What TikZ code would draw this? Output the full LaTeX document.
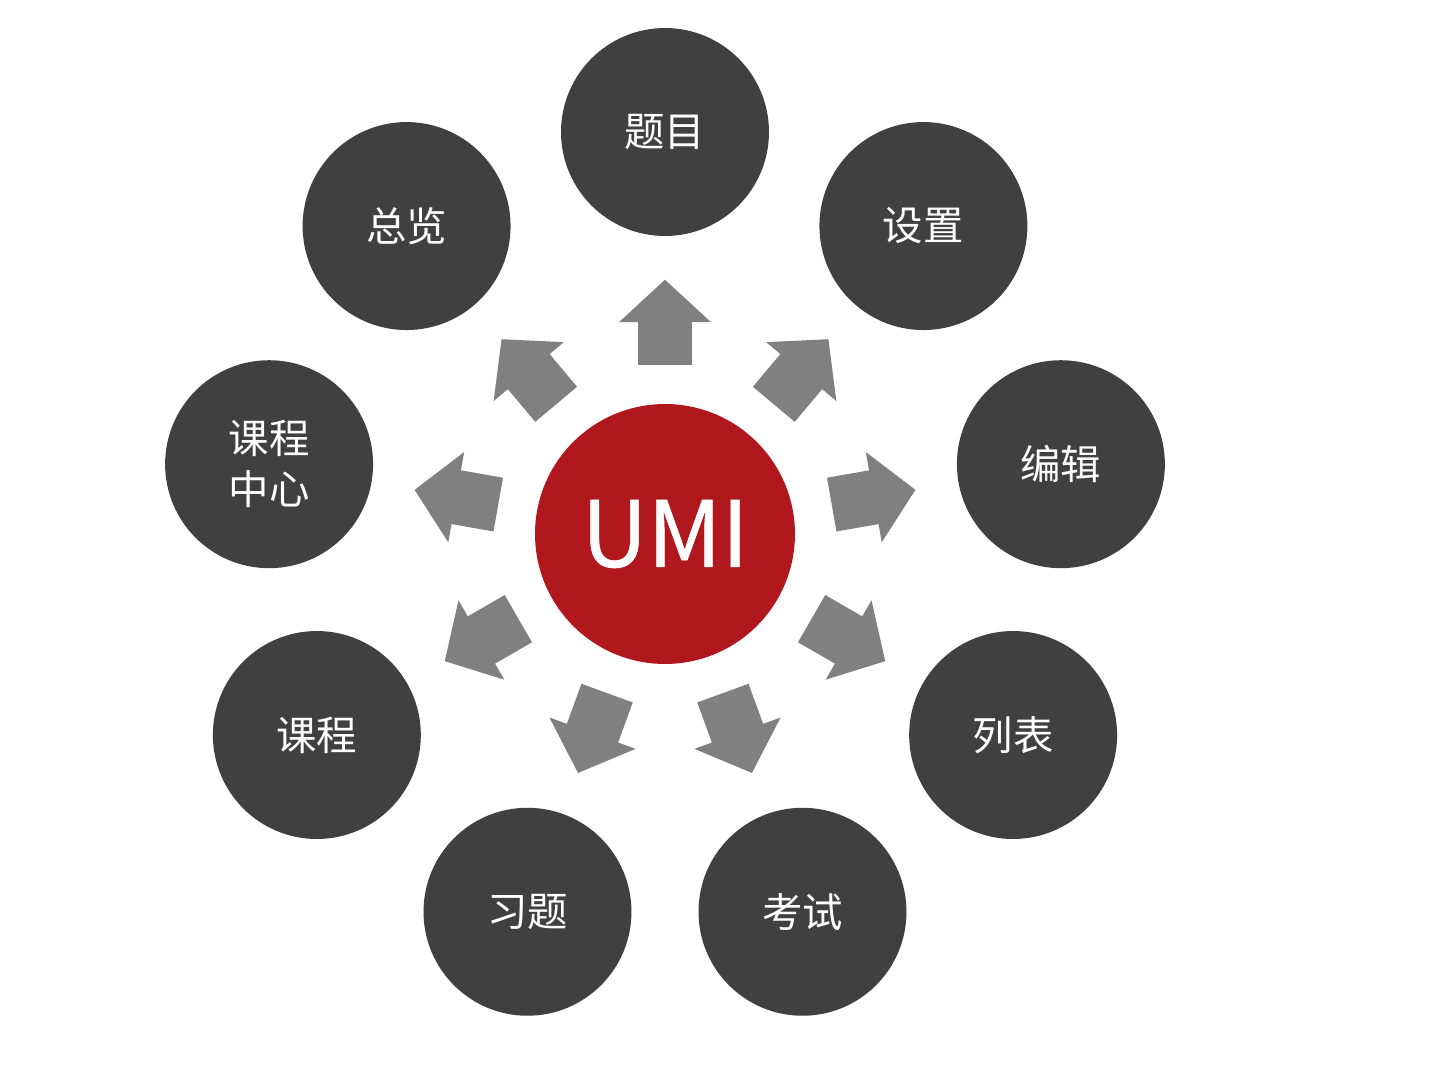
\documentclass[tikz,border=0pt]{standalone}
\usepackage{fontspec}
\setmainfont{Noto Sans CJK SC}
\newfontfamily\umifont[FakeBold=0.6]{Noto Sans CJK SC}
\usetikzlibrary{arrows.meta}
\definecolor{umired}{RGB}{176,24,30}
\definecolor{darkdisc}{RGB}{64,64,64}
\definecolor{arrowgray}{RGB}{128,128,128}
\begin{document}
\begin{tikzpicture}[x=0.02cm,y=0.02cm,
    disc/.style={circle,fill=darkdisc,text=white,minimum size=4.16cm,inner sep=0pt,
      align=center,font=\fontsize{23}{29}\selectfont},
    fleche/.style={line width=1.092cm,draw=arrowgray,shorten <=0.78cm,shorten >=0.866cm,
      -{Triangle[length=0.848cm,width=1.784cm]}}]
  \useasboundingbox (-665,-542) rectangle (766,534);
  \node[circle,fill=umired,minimum size=5.2cm,text=white,font=\umifont\fontsize{52}{52}\selectfont] (umi) at (0,0) {UMI};
  % nine modules, 40 degrees apart
  \foreach \txt [count=\i] in {题目,设置,编辑,列表,考试,习题,课程,{课程\\中心},总览}{
    \pgfmathsetmacro\ang{130-40*\i}
    \node[disc] (n\i) at (\ang:402) {\txt};
    \draw[fleche] (umi) -- (n\i);
  }
\end{tikzpicture}
\end{document}
